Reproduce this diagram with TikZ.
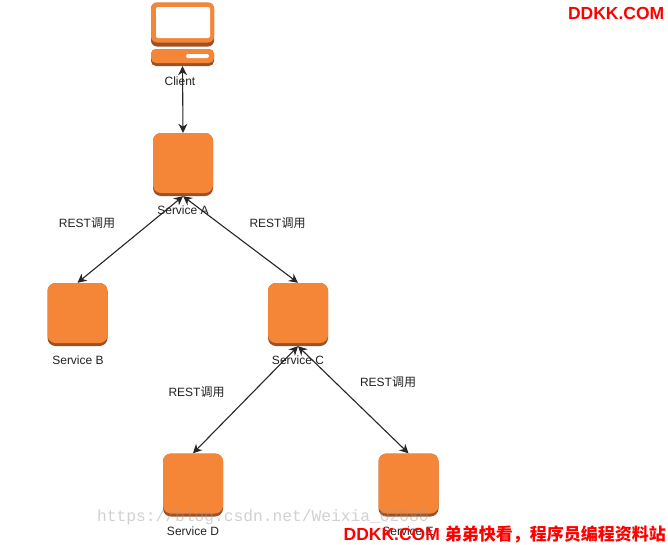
\documentclass[tikz,border=0pt]{standalone}
\usepackage{fontspec}
\setmainfont{Liberation Sans}
\newfontfamily\cjk{Noto Sans CJK SC}
\newfontfamily\wmfont{Liberation Mono}
\usetikzlibrary{arrows.meta}
\definecolor{awsorange}{HTML}{F68637}
\definecolor{awsdark}{HTML}{9D5025}
\definecolor{lbl}{HTML}{222222}
\tikzset{
  x=1pt,y=-1pt,
  svcshade/.style={rectangle,rounded corners=8pt,fill=awsdark,minimum width=60pt,minimum height=63pt,inner sep=0pt,draw=none},
  svc/.style={rectangle,rounded corners=8pt,fill=awsorange,minimum width=60pt,minimum height=60pt,inner sep=0pt,draw=none},
  lab/.style={font=\fontsize{12}{14}\selectfont,text=lbl,inner sep=0pt},
  link/.style={draw=black!85,line width=1.1pt,{Stealth[length=9pt,width=9pt]}-{Stealth[length=9pt,width=9pt]}},
  mark red/.style={font=\bfseries\fontsize{17.5}{20}\selectfont,text=red,inner sep=0pt}
}
\begin{document}
\begin{tikzpicture}
\useasboundingbox (0,0) rectangle (668,544);
\fill[white] (0,0) rectangle (668,544);
% client
\node[svcshade,minimum width=63pt,minimum height=44pt,rounded corners=6pt] (screenS) at (182.5,24.5) {};
\node[svc,minimum width=63pt,minimum height=40pt,rounded corners=6pt] (screen) at (182.5,22.5) {};
\node[rectangle,rounded corners=2pt,fill=white,minimum width=54pt,minimum height=31pt,inner sep=0pt] (screenI) at (183,22.5) {};
\node[svcshade,minimum width=63pt,minimum height=17pt,rounded corners=5pt] (clientS) at (182.5,57.5) {};
\node[svc,minimum width=63pt,minimum height=14pt,rounded corners=5pt] (client) at (182.5,56) {};
\node[rectangle,rounded corners=2pt,fill=white,minimum width=23pt,minimum height=4pt,inner sep=0pt] (slot) at (197.5,56) {};
% services
\foreach \n/\x/\y in {a/183/164.5,b/77.5/314.5,c/298/314.5,d/193/485,e/408.5/485}{
  \node[svcshade] (\n S) at (\x,\y) {};
  \node[svc] (\n) at (\x,\y-1.5) {};
}
% connectors
\draw[link] (clientS.south) -- (a.north);
\draw[link] (aS.south) -- (bS.north);
\draw[link] (aS.south) -- (cS.north);
\draw[link] (cS.south) -- (dS.north);
\draw[link] (cS.south) -- (eS.north);
% labels
\node[lab] (lclient) at (180,81) {Client};
\node[lab] (la) at (183,210) {Service A};
\node[lab] (lb) at (78,360) {Service B};
\node[lab] (lc) at (298,360) {Service C};
\node[lab] (ld) at (193,531) {Service D};
\node[lab] (le) at (408,531) {Service E};
\node[lab] (r1) at (87,223) {REST{\cjk 调用}};
\node[lab] (r2) at (277.5,223) {REST{\cjk 调用}};
\node[lab] (r3) at (196.5,392) {REST{\cjk 调用}};
\node[lab] (r4) at (388,382) {REST{\cjk 调用}};
% watermarks
\node[font=\wmfont\fontsize{16.25}{18}\selectfont,text=black!40,text opacity=0.45,inner sep=0pt,anchor=west] (wm) at (97,517) {https://blog.csdn.net/Weixia\_02080};
\node[mark red,anchor=east] (m1) at (664.5,13) {DDKK.COM};
\node[mark red,anchor=east] (m2) at (666,534) {DDKK.COM {\cjk\fontsize{17}{20}\selectfont 弟弟快看，程序员编程资料站}};
\end{tikzpicture}
\end{document}
